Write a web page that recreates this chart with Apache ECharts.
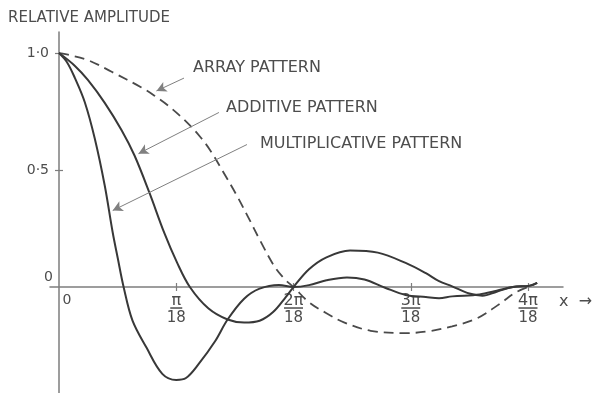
<!DOCTYPE html>
<html>
<head>
<meta charset="utf-8">
<script src="https://cdn.jsdelivr.net/npm/echarts@6/dist/echarts.min.js"></script>
<style>
  html, body { margin: 0; padding: 0; background: #fff; }
  #chart { width: 597px; height: 393px; }
</style>
</head>
<body>
<div id="chart"></div>
<script>
// x is measured in units of pi/18
const xTicks = [0, 1, 2, 3, 4];
const xNumerators = ['0', 'π', '2π', '3π', '4π'];
const xDenominator = '18';
const yTicks = [0, 0.5, 1];
const yTickLabels = ['0', '0·5', '1·0'];

// [x, relative amplitude]
const arrayPattern = [
  [0, 1.0], [0.076, 0.993], [0.246, 0.970], [0.449, 0.920], [0.703, 0.853],
  [0.814, 0.818], [0.924, 0.778], [1.091, 0.704], [1.207, 0.640], [1.289, 0.585],
  [1.397, 0.495], [1.512, 0.395], [1.612, 0.300], [1.719, 0.195], [1.835, 0.090],
  [1.920, 0.036], [2.0, 0], [2.132, -0.065], [2.281, -0.112], [2.430, -0.151],
  [2.658, -0.187], [2.956, -0.197], [3.155, -0.189], [3.353, -0.168],
  [3.560, -0.135], [3.759, -0.072], [3.888, -0.025], [4.0, 0]
];

const additivePattern = [
  [0, 1.0], [0.136, 0.945], [0.246, 0.885], [0.390, 0.787], [0.534, 0.670],
  [0.644, 0.562], [0.771, 0.403], [0.898, 0.231], [1.008, 0.103], [1.116, 0],
  [1.273, -0.091], [1.438, -0.139], [1.579, -0.152], [1.711, -0.144],
  [1.826, -0.107], [1.934, -0.043], [2.0, 0], [2.132, 0.076], [2.281, 0.127],
  [2.482, 0.156], [2.719, 0.147], [2.956, 0.103], [3.129, 0.059], [3.241, 0.025],
  [3.353, 0.003], [3.500, -0.028], [3.612, -0.037], [3.733, -0.020], [3.871, 0],
  [4.017, 0.006], [4.078, 0.018]
];

const multiplicativePattern = [
  [0, 1.0], [0.068, 0.961], [0.136, 0.893], [0.220, 0.790], [0.305, 0.635],
  [0.390, 0.434], [0.458, 0.233], [0.500, 0.126], [0.551, 0], [0.627, -0.144],
  [0.746, -0.259], [0.881, -0.371], [1.0, -0.397], [1.083, -0.389], [1.190, -0.330],
  [1.331, -0.232], [1.438, -0.139], [1.579, -0.050], [1.711, -0.007], [1.876, 0.009],
  [2.0, 0], [2.132, 0.008], [2.281, 0.029], [2.456, 0.041], [2.605, 0.032],
  [2.781, -0.003], [2.956, -0.034], [3.129, -0.043], [3.241, -0.048], [3.353, -0.040],
  [3.586, -0.032], [3.733, -0.016], [3.871, 0], [4.017, 0.006], [4.078, 0.018]
];

// leader arrows: from each caption towards its curve, in data coordinates
const leaderArrows = [
  { from: [1.066, 0.893], to: [0.831, 0.838] },
  { from: [1.364, 0.746], to: [0.678, 0.570] },
  { from: [1.603, 0.609], to: [0.458, 0.327] }
];

const INK = '#383838';
const AXIS = '#7d7d7d';
const TEXT = '#4d4d4d';
const FONT = 'DejaVu Sans';

// plotting area and value ranges
const GRID = { left: 50, right: 34, top: 32, bottom: 0 };
const W = 597 - GRID.left - GRID.right;
const H = 393 - GRID.top - GRID.bottom;
const X_MIN = -0.0768, X_MAX = 4.2985;
const Y_MIN = -0.453, Y_MAX = 1.09;

// shift the axes from the grid edges onto the zero lines
const yAxisOffset = -((0 - X_MIN) / (X_MAX - X_MIN)) * W;
const xAxisOffset = -((0 - Y_MIN) / (Y_MAX - Y_MIN)) * H;

const chart = echarts.init(document.getElementById('chart'), null, { renderer: 'canvas' });

// tick labels as stacked fractions: numerator, rule, denominator
function xLabel(value) {
  const i = xTicks.indexOf(Math.round(value));
  if (i === 0) return '{z|0}';
  const num = xNumerators[i];
  const bar = num.length > 1 ? '{r2| }' : '{r1| }';
  return '{n|' + num + '}\n' + bar + '\n{d|' + xDenominator + '}';
}

function yLabel(value) {
  const i = yTicks.indexOf(value);
  if (i === 0) return '{z|' + yTickLabels[0] + '}';
  return '{v|' + yTickLabels[i] + '}';
}

const lineBase = { type: 'line', showSymbol: false, symbol: 'none', smooth: 0.35, silent: true, z: 3 };
const tickStyle = { color: AXIS, width: 1.2 };
const captionFont = '16px "DejaVu Sans"';

chart.setOption({
  animation: false,
  backgroundColor: '#ffffff',
  grid: Object.assign({ outerBoundsMode: 'none', containLabel: false }, GRID),
  xAxis: [
    {
      type: 'value', min: X_MIN, max: X_MAX, position: 'bottom', offset: xAxisOffset,
      splitLine: { show: false },
      axisLine: { onZero: false, lineStyle: { color: AXIS, width: 1.5 } },
      axisTick: { show: true, customValues: [1, 2, 3, 4], length: 4, lineStyle: tickStyle },
      axisLabel: {
        customValues: xTicks, margin: 8, formatter: xLabel, color: TEXT, fontFamily: FONT,
        rich: {
          z: { fontSize: 14, lineHeight: 10, padding: [0, 0, 0, 16], color: TEXT, fontFamily: FONT },
          n: { fontSize: 16, lineHeight: 11, color: TEXT, fontFamily: FONT },
          r1: { fontSize: 1, lineHeight: 4, width: 12, height: 1.5, backgroundColor: TEXT },
          r2: { fontSize: 1, lineHeight: 4, width: 19, height: 1.5, backgroundColor: TEXT },
          d: { fontSize: 15, lineHeight: 16, color: TEXT, fontFamily: FONT }
        }
      },
      name: '\nx  →', nameLocation: 'end', nameGap: -4, nameMoveOverlap: false,
      nameTextStyle: { color: TEXT, fontFamily: FONT, fontSize: 16, lineHeight: 30 }
    },
    {
      type: 'value', min: X_MIN, max: X_MAX, position: 'bottom', offset: xAxisOffset,
      splitLine: { show: false },
      axisLine: { show: false, onZero: false },
      axisTick: { show: true, inside: true, customValues: [1, 2, 3, 4], length: 4, lineStyle: tickStyle },
      axisLabel: { show: false }
    }
  ],
  yAxis: [
    {
      type: 'value', min: Y_MIN, max: Y_MAX, position: 'left', offset: yAxisOffset,
      splitLine: { show: false },
      axisLine: { onZero: false, lineStyle: { color: AXIS, width: 1.5 } },
      axisTick: { show: true, customValues: [0.5, 1], length: 4, lineStyle: tickStyle },
      axisLabel: {
        customValues: yTicks, margin: 6, formatter: yLabel,
        rich: {
          v: { fontSize: 14, padding: [0, 4, 0, 0], color: TEXT, fontFamily: FONT },
          z: { fontSize: 14, padding: [0, 0, 20, 0], color: TEXT, fontFamily: FONT }
        }
      }
    },
    {
      type: 'value', min: Y_MIN, max: Y_MAX, position: 'left', offset: yAxisOffset,
      splitLine: { show: false },
      axisLine: { show: false, onZero: false },
      axisTick: { show: true, inside: true, customValues: [0.5, 1], length: 4, lineStyle: tickStyle },
      axisLabel: { show: false }
    }
  ],
  graphic: [
    { type: 'text', left: 8, top: 11, silent: true,
      style: { text: 'RELATIVE AMPLITUDE', font: '15px "DejaVu Sans"', fill: TEXT } },
    { type: 'text', left: 193, top: 60, silent: true,
      style: { text: 'ARRAY PATTERN', font: captionFont, fill: TEXT } },
    { type: 'text', left: 226, top: 100, silent: true,
      style: { text: 'ADDITIVE PATTERN', font: captionFont, fill: TEXT } },
    { type: 'text', left: 260, top: 136, silent: true,
      style: { text: 'MULTIPLICATIVE PATTERN', font: captionFont, fill: TEXT } }
  ],
  series: [
    Object.assign({}, lineBase, {
      name: 'Array pattern',
      data: arrayPattern,
      lineStyle: { color: '#4a4a4a', width: 1.8, type: [10, 6] },
      markLine: {
        silent: true, animation: false,
        symbol: ['none', 'arrow'], symbolSize: [8, 10],
        lineStyle: { color: '#808080', width: 1, type: 'solid' },
        label: { show: false },
        data: leaderArrows.map(a => [{ coord: a.from }, { coord: a.to }])
      }
    }),
    Object.assign({}, lineBase, {
      name: 'Additive pattern',
      data: additivePattern,
      lineStyle: { color: INK, width: 2 }
    }),
    Object.assign({}, lineBase, {
      name: 'Multiplicative pattern',
      data: multiplicativePattern,
      lineStyle: { color: INK, width: 2 }
    })
  ]
});
</script>
</body>
</html>
